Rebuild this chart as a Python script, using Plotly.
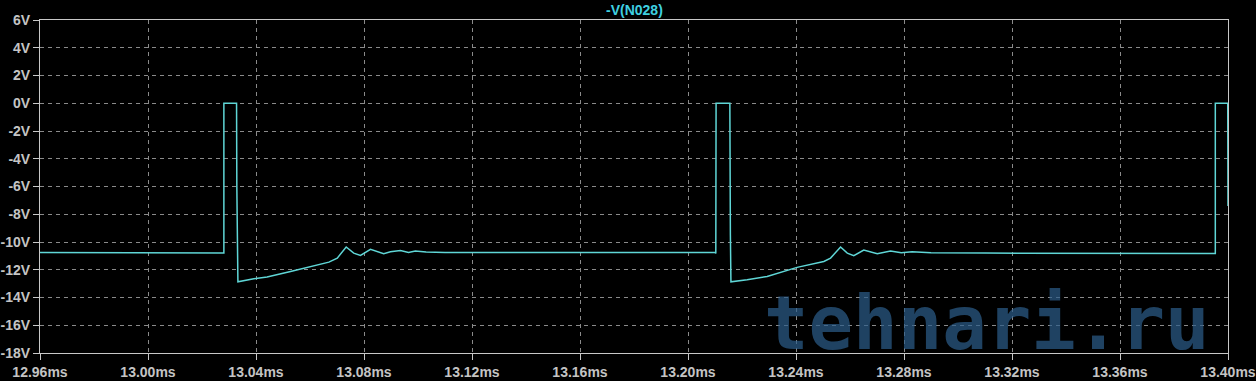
import plotly.graph_objects as go

# time in ms, voltage in V
time_ms = [12.96, 13.0280, 13.0281, 13.0281, 13.0328, 13.0329, 13.0333, 13.0392, 13.0441,
           13.0528, 13.0602, 13.0670, 13.0701, 13.0734, 13.0762, 13.0787, 13.0824, 13.0873,
           13.0898, 13.0935, 13.0965, 13.0990, 13.1030, 13.1100, 13.2100, 13.2103, 13.2104,
           13.2155, 13.2157, 13.2159, 13.2219, 13.2293, 13.2404, 13.2503, 13.2528, 13.2565,
           13.2590, 13.2614, 13.2651, 13.2701, 13.2750, 13.2790, 13.2830, 13.2900, 13.3100,
           13.3645, 13.3952, 13.3953, 13.3953, 13.3999, 13.4000]
volts = [-10.75, -10.75, -10.80, 0.0, 0.0, -6.0, -12.87, -12.65, -12.53,
         -12.12, -11.76, -11.45, -11.16, -10.36, -10.80, -10.97, -10.53, -10.84,
         -10.70, -10.61, -10.75, -10.65, -10.72, -10.75, -10.75, -10.82, 0.0,
         0.0, -9.5, -12.87, -12.72, -12.48, -11.83, -11.40, -11.16, -10.36,
         -10.80, -10.99, -10.58, -10.84, -10.65, -10.78, -10.70, -10.78, -10.80,
         -10.80, -10.82, -10.82, 0.0, 0.0, -7.4]

x_ticks = [12.96, 13.00, 13.04, 13.08, 13.12, 13.16, 13.20, 13.24, 13.28, 13.32, 13.36, 13.40]
x_tick_text = ["12.96ms", "13.00ms", "13.04ms", "13.08ms", "13.12ms", "13.16ms", "13.20ms",
               "13.24ms", "13.28ms", "13.32ms", "13.36ms", "13.40ms"]
y_ticks = [6, 4, 2, 0, -2, -4, -6, -8, -10, -12, -14, -16, -18]
y_tick_text = ["6V", "4V", "2V", "0V", "-2V", "-4V", "-6V", "-8V", "-10V", "-12V", "-14V", "-16V", "-18V"]

title_text = "-V(N028)"
watermark = "tehnari.ru"

fig = go.Figure()
fig.add_trace(go.Scatter(x=time_ms, y=volts, mode="lines",
                         line=dict(color="#5fd6d6", width=1.5), hoverinfo="skip"))

tick_font = dict(family="Liberation Sans, Arial, sans-serif", size=14, color="#c4c4c4",
                 weight="bold")
axis_common = dict(showline=True, linecolor="#c8c8c8", linewidth=1, mirror=True,
                   showgrid=True, gridcolor="#8a8a8a", gridwidth=1, griddash="4px,4px",
                   zeroline=False, ticks="outside", tickcolor="#c8c8c8",
                   tickfont=tick_font, automargin=False, ticklabelstandoff=0)

fig.update_layout(
    width=1256, height=391,
    margin=dict(l=40, r=28, t=20, b=38),
    paper_bgcolor="#000000", plot_bgcolor="#000000",
    showlegend=False,
    xaxis=dict(range=[12.96, 13.40], tickvals=x_ticks, ticktext=x_tick_text, ticklen=6,
               **axis_common),
    yaxis=dict(range=[-18, 6], tickvals=y_ticks, ticktext=y_tick_text, ticklen=6,
               **axis_common),
    annotations=[
        dict(text="<b>" + title_text + "</b>", xref="paper", yref="paper", x=0.5, y=1.0,
             yanchor="bottom", xanchor="center", showarrow=False, yshift=0,
             font=dict(family="Liberation Sans, Arial, sans-serif", size=14, color="#3fd0e0")),
        dict(text="<b>" + watermark + "</b>", xref="paper", yref="paper",
             x=(1212 - 40) / 1188, y=(353 - 368) / 333, xanchor="right", yanchor="bottom",
             showarrow=False, opacity=0.7,
             font=dict(family="DejaVu Sans Mono, monospace", size=74, color="#2d5f8c")),
    ],
    shapes=[
        dict(type="rect", xref="paper", yref="paper", x0=-0.05, x1=1.05,
             y0=(353 - 381) / 333, y1=-0.2, fillcolor="#ffffff", line=dict(width=0),
             layer="above"),
    ],
)

fig.write_html("out.html")
